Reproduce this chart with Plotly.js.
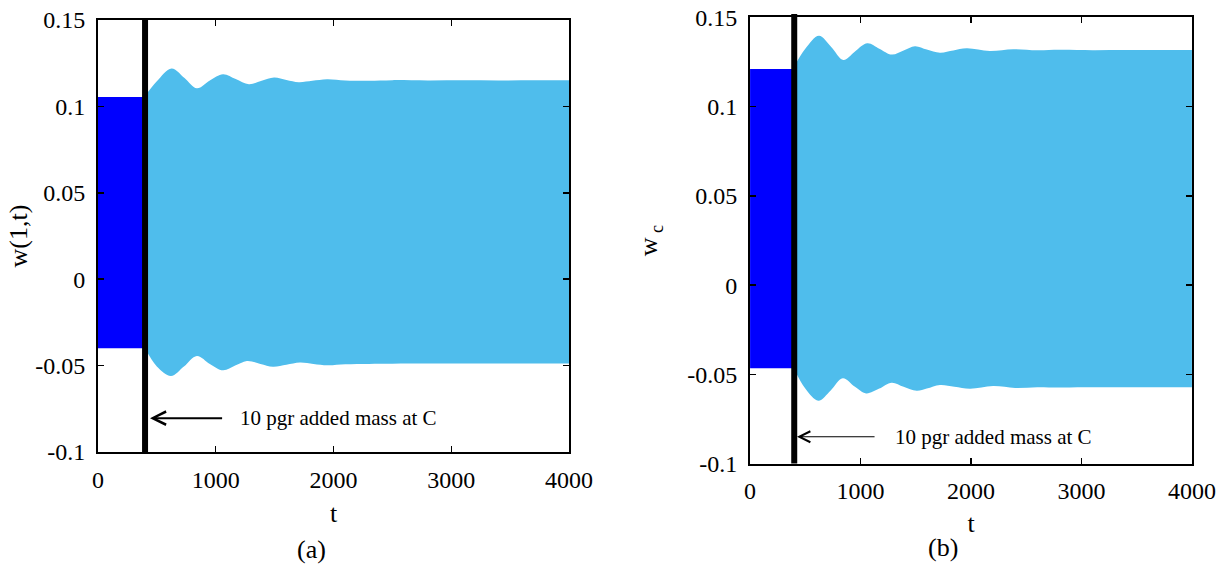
<!DOCTYPE html>
<html>
<head>
<meta charset="utf-8">
<script src="https://cdn.plot.ly/plotly-3.0.1.min.js"></script>
<style>html,body{margin:0;padding:0;background:#fff;}#chart{width:1232px;height:570px;}</style>
</head>
<body>
<div id="chart"></div>
<script>
// ---------- data ----------
const preT = [0, 400];
const preUpperA = [0.1055, 0.1055];
const preLowerA = [-0.040, -0.040];
const preUpperB = [0.1211, 0.1211];
const preLowerB = [-0.0466, -0.0466];

const tUpperA = [400, 500, 625, 735, 840, 950, 1062, 1170, 1282, 1390, 1495, 1600, 1705, 1820, 1945, 2100, 2300, 2500, 2800, 3100, 3400, 3700, 4000];
const upperA  = [0.106, 0.1145, 0.122, 0.1165, 0.1105, 0.115, 0.1186, 0.1158, 0.1128, 0.1148, 0.1167, 0.1153, 0.1140, 0.1148, 0.1157, 0.1150, 0.1148, 0.1152, 0.1150, 0.1151, 0.1150, 0.1151, 0.1151];
const tLowerA = [400, 500, 620, 730, 840, 950, 1062, 1165, 1265, 1380, 1486, 1600, 1715, 1830, 1950, 2100, 2300, 2500, 2800, 3100, 3400, 3700, 4000];
const lowerA  = [-0.040, -0.0505, -0.056, -0.0505, -0.0444, -0.049, -0.0527, -0.050, -0.0473, -0.049, -0.0507, -0.0495, -0.0482, -0.049, -0.0498, -0.0492, -0.0490, -0.0489, -0.0488, -0.0488, -0.0488, -0.0488, -0.0488];

const tUpperB = [400, 500, 624, 735, 845, 950, 1062, 1170, 1283, 1390, 1493, 1600, 1719, 1840, 1961, 2170, 2383, 2600, 2800, 3100, 3400, 3700, 4000];
const upperB  = [0.1225, 0.1325, 0.1398, 0.1335, 0.1262, 0.131, 0.1355, 0.1325, 0.1292, 0.1315, 0.1339, 0.1320, 0.1303, 0.1315, 0.1327, 0.1312, 0.1322, 0.1316, 0.1319, 0.1317, 0.1318, 0.1318, 0.1318];
const tLowerB = [400, 500, 618, 730, 839, 950, 1050, 1170, 1282, 1390, 1508, 1600, 1719, 1850, 1991, 2200, 2400, 2600, 2800, 3100, 3400, 3700, 4000];
const lowerB  = [-0.047, -0.058, -0.0648, -0.059, -0.0522, -0.057, -0.0607, -0.058, -0.0547, -0.057, -0.0592, -0.058, -0.056, -0.057, -0.0581, -0.0566, -0.0576, -0.0572, -0.0574, -0.0573, -0.0573, -0.0573, -0.0573];

const markerT = 400;
const xTickVals = [0, 1000, 2000, 3000, 4000];
const xTickText = ['0', '1000', '2000', '3000', '4000'];
const yTickVals = [-0.1, -0.05, 0, 0.05, 0.1, 0.15];
const yTickText = ['-0.1', '-0.05', '0', '0.05', '0.1', '0.15'];
const noteText = '10 pgr added mass at C';
const arrowA = {tip: 442, y: -0.0804, text: 1190};
const arrowB = {tip: 425, y: -0.085, text: 1290};

// ---------- styles ----------
const DARK = '#0000ff';
const LIGHT = '#4fbdec';
const SERIF = 'Liberation Serif, Times New Roman, serif';

function band(t1, lo, t2, hi, xa, ya, color, shape) {
  return [
    {x: t1, y: lo, xaxis: xa, yaxis: ya, type: 'scatter', mode: 'lines',
     line: {width: 0, color: color, shape: shape}, hoverinfo: 'skip', showlegend: false},
    {x: t2, y: hi, xaxis: xa, yaxis: ya, type: 'scatter', mode: 'lines', fill: 'tonexty',
     fillcolor: color, line: {width: 0, color: color, shape: shape}, hoverinfo: 'skip', showlegend: false}
  ];
}

const data = [].concat(
  band(preT, preLowerA, preT, preUpperA, 'x', 'y', DARK, 'linear'),
  band(tLowerA, lowerA, tUpperA, upperA, 'x', 'y', LIGHT, 'spline'),
  band(preT, preLowerB, preT, preUpperB, 'x2', 'y2', DARK, 'linear'),
  band(tLowerB, lowerB, tUpperB, upperB, 'x2', 'y2', LIGHT, 'spline')
);

function xax(domain, anchor, standoff) {
  return {domain: domain, anchor: anchor, range: [0, 4000], tickvals: xTickVals, ticktext: xTickText,
    showgrid: false, zeroline: false, showline: true, linecolor: '#000', linewidth: 2,
    mirror: 'ticks', ticks: 'inside', ticklen: 6, tickwidth: 1.5, tickcolor: '#000',
    ticklabelstandoff: 5,
    tickfont: {family: SERIF, size: 24, color: '#000'},
    title: {text: 't', font: {family: SERIF, size: 26, color: '#000'}, standoff: standoff}};
}
function yax(domain, anchor, title, standoff) {
  return {domain: domain, anchor: anchor, range: [-0.1, 0.15], tickvals: yTickVals, ticktext: yTickText,
    showgrid: false, zeroline: false, showline: true, linecolor: '#000', linewidth: 2,
    mirror: 'ticks', ticks: 'inside', ticklen: 6, tickwidth: 1.5, tickcolor: '#000',
    ticklabelstandoff: 6,
    tickfont: {family: SERIF, size: 24, color: '#000'},
    title: {text: title, font: {family: SERIF, size: 26, color: '#000'}, standoff: standoff}};
}

const layout = {
  width: 1232, height: 570,
  margin: {l: 0, r: 0, t: 0, b: 0},
  paper_bgcolor: '#fff', plot_bgcolor: '#fff',
  showlegend: false,
  xaxis: xax([0.0795, 0.4619], 'y', 12),
  yaxis: yax([0.2070, 0.9649], 'x', 'w(1,t)', 0),
  xaxis2: xax([0.6088, 0.9675], 'y2', 10),
  yaxis2: yax([0.1868, 0.9693], 'x2', 'w<sub> c</sub>', 22),
  shapes: [
    {type: 'line', xref: 'x', yref: 'y domain', x0: markerT, x1: markerT, y0: 0, y1: 1,
     line: {color: '#000', width: 6}},
    {type: 'line', xref: 'x2', yref: 'y2 domain', x0: markerT, x1: markerT, y0: 0, y1: 1.008,
     line: {color: '#000', width: 6}}
  ],
  annotations: [
    {xref: 'x', yref: 'y', axref: 'x', ayref: 'y', x: arrowA.tip, y: arrowA.y, ax: arrowA.text, ay: arrowA.y,
     xanchor: 'left', yanchor: 'middle', text: noteText, startstandoff: 16,
     showarrow: true, arrowhead: 5, arrowsize: 1.3, arrowwidth: 2, arrowcolor: '#000',
     font: {family: SERIF, size: 21, color: '#000'}},
    {xref: 'x2', yref: 'y2', axref: 'x2', ayref: 'y2', x: arrowB.tip, y: arrowB.y, ax: arrowB.text, ay: arrowB.y,
     xanchor: 'left', yanchor: 'middle', text: noteText, startstandoff: 18,
     showarrow: true, arrowhead: 5, arrowsize: 1.8, arrowwidth: 1.2, arrowcolor: '#000',
     font: {family: SERIF, size: 21, color: '#000'}},
    {xref: 'paper', yref: 'paper', x: 0.2532, y: 0.0351, text: '(a)', showarrow: false,
     xanchor: 'center', yanchor: 'middle', font: {family: SERIF, size: 26, color: '#000'}},
    {xref: 'paper', yref: 'paper', x: 0.7654, y: 0.0386, text: '(b)', showarrow: false,
     xanchor: 'center', yanchor: 'middle', font: {family: SERIF, size: 26, color: '#000'}}
  ]
};

Plotly.newPlot('chart', data, layout, {displayModeBar: false, staticPlot: true});
</script>
</body>
</html>
